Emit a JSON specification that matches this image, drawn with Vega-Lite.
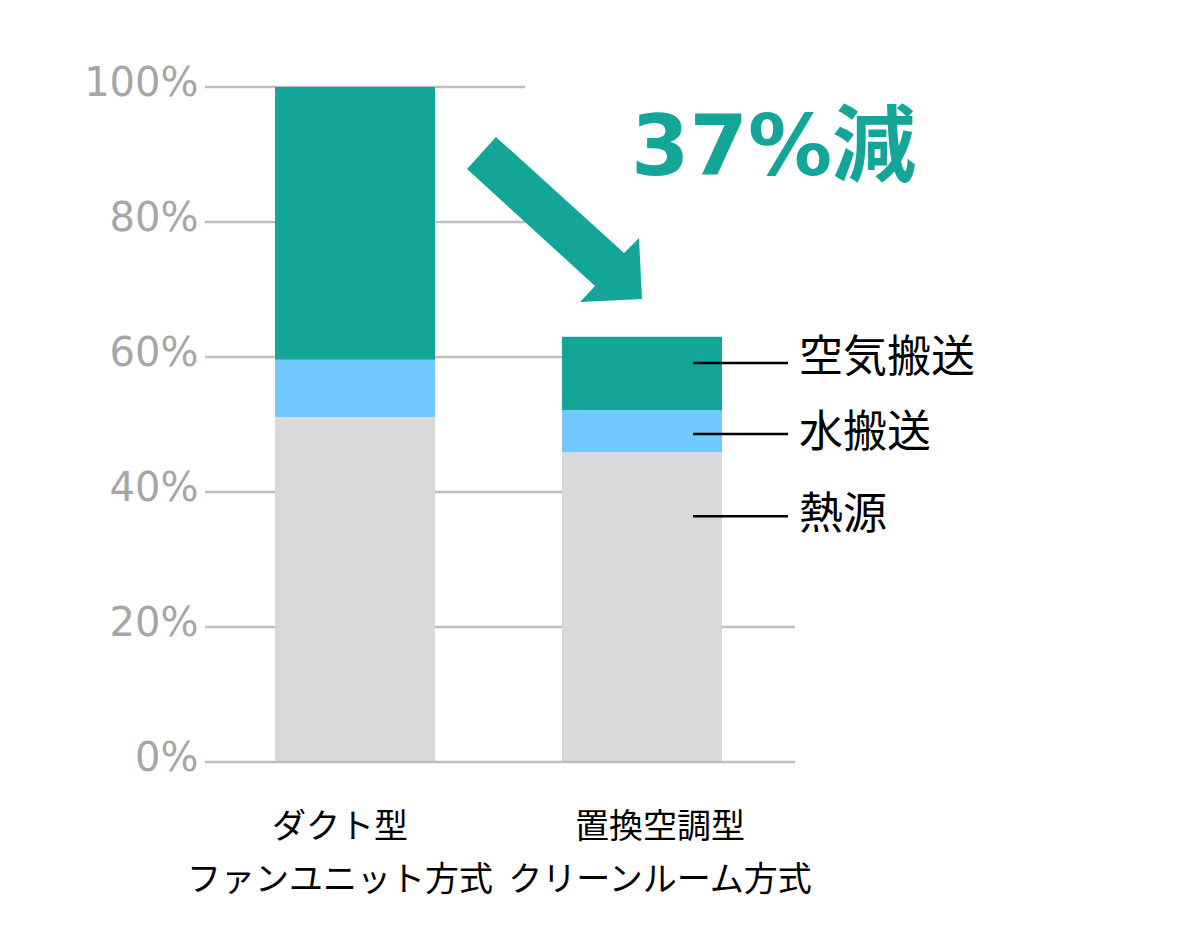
{
  "$schema": "https://vega.github.io/schema/vega-lite/v6.json",
  "width": 590,
  "height": 675,
  "autosize": {"type": "none"},
  "padding": {"left": 205, "top": 87, "right": 396, "bottom": 182},
  "background": "#ffffff",
  "datasets": {
    "energy": [
      {"system": "ダクト型 ファンユニット方式", "component": "熱源", "share": 51.1},
      {"system": "ダクト型 ファンユニット方式", "component": "水搬送", "share": 8.5},
      {"system": "ダクト型 ファンユニット方式", "component": "空気搬送", "share": 40.4},
      {"system": "置換空調型 クリーンルーム方式", "component": "熱源", "share": 45.9},
      {"system": "置換空調型 クリーンルーム方式", "component": "水搬送", "share": 6.2},
      {"system": "置換空調型 クリーンルーム方式", "component": "空気搬送", "share": 10.9}
    ]
  },
  "layer": [
    {
      "data": {"values": [{"level": 80}, {"level": 100}]},
      "mark": {"type": "rule", "color": "#bfbfbf", "strokeWidth": 2.5},
      "encoding": {
        "x": {"datum": "ダクト型 ファンユニット方式", "type": "nominal", "bandPosition": -0.4375},
        "x2": {"datum": "ダクト型 ファンユニット方式", "bandPosition": 1.5625},
        "y": {"field": "level", "type": "quantitative"}
      }
    },
    {
      "data": {"values": [{"level": 40}, {"level": 60}]},
      "mark": {"type": "rule", "color": "#bfbfbf", "strokeWidth": 2.5},
      "encoding": {
        "x": {"datum": "ダクト型 ファンユニット方式", "type": "nominal", "bandPosition": -0.4375},
        "x2": {"datum": "置換空調型 クリーンルーム方式", "bandPosition": 0.2},
        "y": {"field": "level", "type": "quantitative"}
      }
    },
    {
      "data": {"values": [{"level": 20}]},
      "mark": {"type": "rule", "color": "#bfbfbf", "strokeWidth": 2.5},
      "encoding": {
        "x": {"datum": "ダクト型 ファンユニット方式", "type": "nominal", "bandPosition": -0.4375},
        "x2": {"datum": "置換空調型 クリーンルーム方式", "bandPosition": 1.456},
        "y": {"field": "level", "type": "quantitative"}
      }
    },
    {
      "data": {"name": "energy"},
      "transform": [
        {"calculate": "indexof(['熱源', '水搬送', '空気搬送'], datum.component)", "as": "stackOrder"}
      ],
      "mark": {"type": "bar"},
      "encoding": {
        "x": {
          "field": "system",
          "type": "nominal",
          "scale": {
            "domain": ["ダクト型 ファンユニット方式", "置換空調型 クリーンルーム方式"],
            "paddingInner": 0.4425,
            "paddingOuter": 0.2491,
            "align": 0.4895
          },
          "axis": {
            "title": null,
            "domain": false,
            "ticks": false,
            "grid": false,
            "labelAngle": 0,
            "labelAlign": "center",
            "labelBaseline": "top",
            "labelExpr": "split(datum.label, ' ')",
            "labelFont": "Noto Sans CJK JP",
            "labelFontSize": 34,
            "labelColor": "#000000",
            "labelLineHeight": 53,
            "labelPadding": 48,
            "labelLimit": 500,
            "labelOverlap": false,
            "labelBound": false,
            "labelOffset": {
              "condition": {"test": "datum.value == 'ダクト型 ファンユニット方式'", "value": -15},
              "value": 18
            }
          }
        },
        "y": {
          "field": "share",
          "type": "quantitative",
          "stack": "zero",
          "scale": {"domain": [0, 100], "nice": false},
          "axis": {
            "title": null,
            "values": [0, 20, 40, 60, 80, 100],
            "domain": false,
            "ticks": false,
            "grid": false,
            "labelExpr": "datum.value + '%'",
            "labelFont": "DejaVu Sans",
            "labelFontSize": 40,
            "labelColor": "#a6a6a6",
            "labelPadding": 7,
            "labelBaseline": "alphabetic",
            "labelOffset": 8
          }
        },
        "color": {
          "field": "component",
          "type": "nominal",
          "scale": {
            "domain": ["熱源", "水搬送", "空気搬送"],
            "range": ["#d9d9d9", "#71c9fe", "#13a698"]
          },
          "legend": null
        },
        "order": {"field": "stackOrder", "sort": "ascending"}
      }
    },
    {
      "data": {"values": [{"level": 0}]},
      "mark": {"type": "rule", "color": "#bfbfbf", "strokeWidth": 2.5},
      "encoding": {
        "x": {"datum": "ダクト型 ファンユニット方式", "type": "nominal", "bandPosition": -0.4375},
        "x2": {"datum": "置換空調型 クリーンルーム方式", "bandPosition": 1.456},
        "y": {"field": "level", "type": "quantitative"}
      }
    },
    {
      "data": {"values": [{}]},
      "mark": {
        "type": "point",
        "shape": "M-0.665,-0.9375L0.79,0.381L0.96,0.21L0.994,0.903L0.29,0.9375L0.46,0.756L-0.994,-0.574Z",
        "size": 30976,
        "filled": true,
        "color": "#13a698",
        "opacity": 1,
        "strokeWidth": 0
      },
      "encoding": {
        "x": {"datum": "ダクト型 ファンユニット方式", "type": "nominal", "bandPosition": 1.747},
        "y": {"datum": 80.37, "type": "quantitative"}
      }
    },
    {
      "data": {"values": [{}]},
      "mark": {
        "type": "text",
        "text": "37%減",
        "align": "center",
        "baseline": "alphabetic",
        "font": "'DejaVu Sans', 'Noto Sans CJK JP'",
        "fontWeight": "bold",
        "fontSize": 84,
        "color": "#13a698"
      },
      "encoding": {
        "x": {"datum": "置換空調型 クリーンルーム方式", "type": "nominal", "bandPosition": 1.322},
        "y": {"datum": 86.96, "type": "quantitative"}
      }
    },
    {
      "data": {"values": [{}]},
      "encoding": {"y": {"datum": 59.1, "type": "quantitative"}},
      "layer": [
        {
          "mark": {"type": "rule", "color": "#000000", "strokeWidth": 2.5},
          "encoding": {
            "x": {"datum": "置換空調型 クリーンルーム方式", "type": "nominal", "bandPosition": 0.819},
            "x2": {"datum": "置換空調型 クリーンルーム方式", "bandPosition": 1.4125}
          }
        },
        {
          "mark": {"type": "text", "text": "空気搬送", "align": "left", "baseline": "middle", "font": "Noto Sans CJK JP", "fontSize": 44, "color": "#000000", "dy": -4},
          "encoding": {
            "x": {"datum": "置換空調型 クリーンルーム方式", "type": "nominal", "bandPosition": 1.481}
          }
        }
      ]
    },
    {
      "data": {"values": [{}]},
      "encoding": {"y": {"datum": 48.6, "type": "quantitative"}},
      "layer": [
        {
          "mark": {"type": "rule", "color": "#000000", "strokeWidth": 2.5},
          "encoding": {
            "x": {"datum": "置換空調型 クリーンルーム方式", "type": "nominal", "bandPosition": 0.819},
            "x2": {"datum": "置換空調型 クリーンルーム方式", "bandPosition": 1.4125}
          }
        },
        {
          "mark": {"type": "text", "text": "水搬送", "align": "left", "baseline": "middle", "font": "Noto Sans CJK JP", "fontSize": 44, "color": "#000000"},
          "encoding": {
            "x": {"datum": "置換空調型 クリーンルーム方式", "type": "nominal", "bandPosition": 1.481}
          }
        }
      ]
    },
    {
      "data": {"values": [{}]},
      "encoding": {"y": {"datum": 36.4, "type": "quantitative"}},
      "layer": [
        {
          "mark": {"type": "rule", "color": "#000000", "strokeWidth": 2.5},
          "encoding": {
            "x": {"datum": "置換空調型 クリーンルーム方式", "type": "nominal", "bandPosition": 0.819},
            "x2": {"datum": "置換空調型 クリーンルーム方式", "bandPosition": 1.4125}
          }
        },
        {
          "mark": {"type": "text", "text": "熱源", "align": "left", "baseline": "middle", "font": "Noto Sans CJK JP", "fontSize": 44, "color": "#000000"},
          "encoding": {
            "x": {"datum": "置換空調型 クリーンルーム方式", "type": "nominal", "bandPosition": 1.481}
          }
        }
      ]
    }
  ],
  "config": {
    "view": {"stroke": null}
  }
}
